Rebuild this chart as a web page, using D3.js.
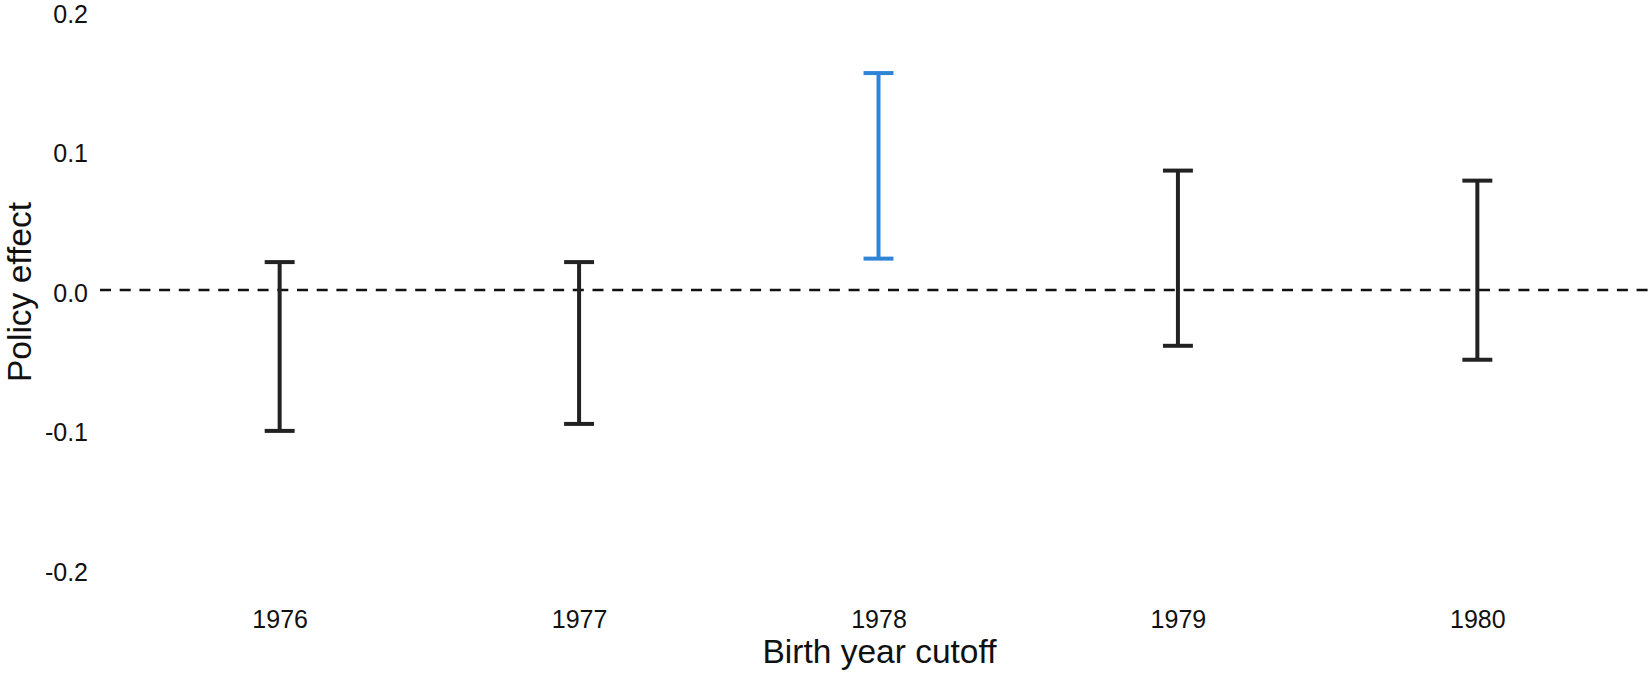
<!DOCTYPE html>
<html>
<head>
<meta charset="utf-8">
<script src="https://cdn.jsdelivr.net/npm/d3@7"></script>
<style>
  body { margin: 0; background: #fff; }
  svg { display: block; font-family: "Liberation Sans", Arial, Helvetica, sans-serif; }
</style>
</head>
<body>
<svg id="chart"></svg>
<script>
// estimates
let years = ["1976", "1977", "1978", "1979", "1980"];
let lower = [-0.101, -0.096, 0.0225, -0.040, -0.050];
let upper = [0.020, 0.020, 0.1555, 0.0856, 0.0784];
let highlighted = ["1978"];
let yTicks = [0.2, 0.1, 0.0, -0.1, -0.2];

let W = 1652, H = 676;
let margin = { top: 11, right: 0, bottom: 107, left: 100 };

let svg = d3.select("#chart").attr("width", W).attr("height", H);

let x = d3.scalePoint()
  .domain(years)
  .range([margin.left, 1657])
  .padding(0.6);

let y = d3.scaleLinear()
  .domain([-0.2, 0.2])
  .range([H - margin.bottom, margin.top]);

// zero reference line
svg.append("line")
  .attr("x1", margin.left)
  .attr("x2", W)
  .attr("y1", y(0))
  .attr("y2", y(0))
  .attr("stroke", "#111")
  .attr("stroke-width", 2.6)
  .attr("stroke-dasharray", "11,8.7");

// y axis labels, no axis line or ticks
let yAxis = d3.axisLeft(y).tickValues(yTicks).tickSize(0).tickPadding(0)
  .tickFormat(d3.format(".1f"));
let ya = svg.append("g")
  .attr("transform", "translate(88,0)")
  .call(yAxis);
ya.select(".domain").remove();
ya.selectAll("text")
  .attr("font-size", 25)
  .attr("font-family", "Liberation Sans, Arial, sans-serif")
  .attr("fill", "#111")
  .attr("dy", "0.45em")
  .text(d => d3.format(".1f")(d).replace("−", "-"));

// x axis labels
let xAxis = d3.axisBottom(x).tickSize(0).tickPadding(0);
let xa = svg.append("g")
  .attr("transform", "translate(0,628)")
  .call(xAxis);
xa.select(".domain").remove();
xa.selectAll("text")
  .attr("font-size", 25)
  .attr("font-family", "Liberation Sans, Arial, sans-serif")
  .attr("fill", "#111")
  .attr("dy", 0)
  .attr("y", 0);

// error bars
let capW = x.step() * 0.1;
let bars = svg.selectAll(".bar")
  .data(years.map((yr, i) => ({ yr: yr, lo: lower[i], hi: upper[i] })))
  .enter().append("g")
  .attr("class", "bar")
  .attr("stroke", d => highlighted.includes(d.yr) ? "#3084d6" : "#222")
  .attr("stroke-width", 4);

bars.append("line")
  .attr("x1", d => x(d.yr)).attr("x2", d => x(d.yr))
  .attr("y1", d => y(d.hi)).attr("y2", d => y(d.lo));
bars.append("line")
  .attr("x1", d => x(d.yr) - capW / 2).attr("x2", d => x(d.yr) + capW / 2)
  .attr("y1", d => y(d.hi)).attr("y2", d => y(d.hi));
bars.append("line")
  .attr("x1", d => x(d.yr) - capW / 2).attr("x2", d => x(d.yr) + capW / 2)
  .attr("y1", d => y(d.lo)).attr("y2", d => y(d.lo));

// axis titles
svg.append("text")
  .attr("x", (x(years[0]) + x(years[years.length - 1])) / 2 + 1)
  .attr("y", 663)
  .attr("text-anchor", "middle")
  .attr("font-size", 33.5)
  .attr("fill", "#111")
  .text("Birth year cutoff");

svg.append("text")
  .attr("transform", "translate(30.5," + (y(0) + 2) + ") rotate(-90)")
  .attr("text-anchor", "middle")
  .attr("font-size", 33.5)
  .attr("fill", "#111")
  .text("Policy effect");
</script>
</body>
</html>
